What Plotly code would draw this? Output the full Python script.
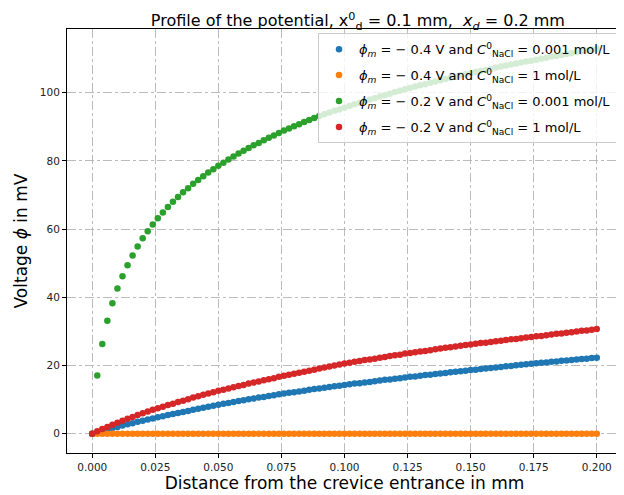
import plotly.graph_objects as go

# distance from crevice entrance (mm)
x_mm = [
    0.000, 0.002, 0.004, 0.006, 0.008, 0.010, 0.012, 0.014, 0.016, 0.018,
    0.020, 0.022, 0.024, 0.026, 0.028, 0.030, 0.032, 0.034, 0.036, 0.038,
    0.040, 0.042, 0.044, 0.046, 0.048, 0.050, 0.052, 0.054, 0.056, 0.058,
    0.060, 0.062, 0.064, 0.066, 0.068, 0.070, 0.072, 0.074, 0.076, 0.078,
    0.080, 0.082, 0.084, 0.086, 0.088, 0.090, 0.092, 0.094, 0.096, 0.098,
    0.100, 0.102, 0.104, 0.106, 0.108, 0.110, 0.112, 0.114, 0.116, 0.118,
    0.120, 0.122, 0.124, 0.126, 0.128, 0.130, 0.132, 0.134, 0.136, 0.138,
    0.140, 0.142, 0.144, 0.146, 0.148, 0.150, 0.152, 0.154, 0.156, 0.158,
    0.160, 0.162, 0.164, 0.166, 0.168, 0.170, 0.172, 0.174, 0.176, 0.178,
    0.180, 0.182, 0.184, 0.186, 0.188, 0.190, 0.192, 0.194, 0.196, 0.198,
    0.200,
]

# phi_m = -0.4 V, C = 0.001 mol/L
phi_04_0001 = [
    0.0, 0.4, 0.9, 1.3, 1.7, 2.0, 2.4, 2.8, 3.1, 3.5,
    3.8, 4.2, 4.5, 4.8, 5.1, 5.5, 5.8, 6.1, 6.4, 6.7,
    7.0, 7.3, 7.6, 7.9, 8.2, 8.5, 8.8, 9.0, 9.3, 9.6,
    9.8, 10.1, 10.3, 10.6, 10.8, 11.1, 11.3, 11.6, 11.8, 12.0,
    12.2, 12.4, 12.6, 12.9, 13.1, 13.3, 13.5, 13.7, 13.9, 14.1,
    14.3, 14.5, 14.7, 14.8, 15.0, 15.2, 15.4, 15.6, 15.8, 15.9,
    16.1, 16.3, 16.5, 16.7, 16.8, 17.0, 17.2, 17.3, 17.5, 17.7,
    17.8, 18.0, 18.2, 18.3, 18.5, 18.7, 18.8, 19.0, 19.1, 19.3,
    19.4, 19.6, 19.8, 19.9, 20.1, 20.2, 20.4, 20.5, 20.7, 20.8,
    20.9, 21.1, 21.2, 21.4, 21.5, 21.6, 21.8, 21.9, 22.0, 22.2,
    22.3,
]

# phi_m = -0.4 V, C = 1 mol/L
phi_04_1 = [
    0.0, 0.0, 0.0, 0.0, 0.0, 0.0, 0.0, 0.0, 0.0, 0.0,
    0.0, 0.0, 0.0, 0.0, 0.0, 0.0, 0.0, 0.0, 0.0, 0.0,
    0.0, 0.0, 0.0, 0.0, 0.0, 0.0, 0.0, 0.0, 0.0, 0.0,
    0.0, 0.0, 0.0, 0.0, 0.0, 0.0, 0.0, 0.0, 0.0, 0.0,
    0.0, 0.0, 0.0, 0.0, 0.0, 0.0, 0.0, 0.0, 0.0, 0.0,
    0.0, 0.0, 0.0, 0.0, 0.0, 0.0, 0.0, 0.0, 0.0, 0.0,
    0.0, 0.0, 0.0, 0.0, 0.0, 0.0, 0.0, 0.0, 0.0, 0.0,
    0.0, 0.0, 0.0, 0.0, 0.0, 0.0, 0.0, 0.0, 0.0, 0.0,
    0.0, 0.0, 0.0, 0.0, 0.0, 0.0, 0.0, 0.0, 0.0, 0.0,
    0.0, 0.0, 0.0, 0.0, 0.0, 0.0, 0.0, 0.0, 0.0, 0.0,
    0.0,
]

# phi_m = -0.2 V, C = 0.001 mol/L
phi_02_0001 = [
    0.0, 17.1, 26.3, 33.1, 38.3, 42.6, 46.2, 49.4, 52.3, 54.9,
    57.3, 59.4, 61.4, 63.2, 64.9, 66.5, 68.0, 69.4, 70.8, 72.0,
    73.3, 74.4, 75.5, 76.6, 77.6, 78.6, 79.5, 80.4, 81.3, 82.2,
    83.0, 83.8, 84.6, 85.3, 86.1, 86.8, 87.5, 88.2, 88.9, 89.5,
    90.2, 90.8, 91.4, 92.0, 92.6, 93.2, 93.7, 94.2, 94.7, 95.1,
    95.6, 96.1, 96.6, 97.1, 97.5, 98.0, 98.4, 98.9, 99.3, 99.7,
    100.2, 100.6, 101.0, 101.4, 101.8, 102.2, 102.5, 102.9, 103.3, 103.7,
    104.0, 104.4, 104.7, 105.1, 105.4, 105.7, 106.1, 106.4, 106.7, 107.0,
    107.4, 107.7, 108.0, 108.3, 108.6, 108.9, 109.2, 109.4, 109.7, 110.0,
    110.3, 110.6, 110.8, 111.1, 111.4, 111.6, 111.9, 112.2, 112.4, 112.7,
    112.9,
]

# phi_m = -0.2 V, C = 1 mol/L
phi_02_1 = [
    0.0, 0.7, 1.4, 2.0, 2.6, 3.2, 3.8, 4.4, 4.9, 5.5,
    6.0, 6.5, 7.0, 7.5, 7.9, 8.4, 8.8, 9.3, 9.7, 10.1,
    10.6, 11.0, 11.4, 11.8, 12.2, 12.6, 12.9, 13.3, 13.6, 14.0,
    14.3, 14.7, 15.0, 15.3, 15.7, 16.0, 16.3, 16.7, 17.0, 17.3,
    17.6, 17.9, 18.2, 18.5, 18.8, 19.1, 19.4, 19.7, 20.0, 20.3,
    20.6, 20.8, 21.1, 21.3, 21.6, 21.8, 22.0, 22.3, 22.5, 22.8,
    23.0, 23.2, 23.5, 23.7, 23.9, 24.1, 24.3, 24.5, 24.8, 25.0,
    25.2, 25.4, 25.6, 25.8, 26.0, 26.2, 26.4, 26.6, 26.7, 26.9,
    27.1, 27.3, 27.5, 27.7, 27.8, 28.0, 28.2, 28.4, 28.6, 28.7,
    28.9, 29.1, 29.3, 29.4, 29.6, 29.8, 30.0, 30.2, 30.3, 30.5,
    30.7,
]

series_names = [
    "<i>ϕ<sub>m</sub></i> = − 0.4 V and <i>C</i><sup>0</sup><sub>NaCl</sub> = 0.001 mol/L",
    "<i>ϕ<sub>m</sub></i> = − 0.4 V and <i>C</i><sup>0</sup><sub>NaCl</sub> = 1 mol/L",
    "<i>ϕ<sub>m</sub></i> = − 0.2 V and <i>C</i><sup>0</sup><sub>NaCl</sub> = 0.001 mol/L",
    "<i>ϕ<sub>m</sub></i> = − 0.2 V and <i>C</i><sup>0</sup><sub>NaCl</sub> = 1 mol/L",
]
series_values = [phi_04_0001, phi_04_1, phi_02_0001, phi_02_1]
colors = ["#1f77b4", "#ff7f0e", "#2ca02c", "#d62728"]

x_ticks = [0.000, 0.025, 0.050, 0.075, 0.100, 0.125, 0.150, 0.175, 0.200]
y_ticks = [0, 20, 40, 60, 80, 100]

FONT = "DejaVu Sans"

fig = go.Figure()
for i, (name, vals, col) in enumerate(zip(series_names, series_values, colors)):
    fig.add_trace(go.Scatter(
        x=x_mm, y=vals, mode="markers", name=name, legendgroup=f"g{i}",
        marker=dict(color=col, size=6.5, line=dict(width=0)),
    ))

grid = "rgba(176,176,176,0.85)"
# the page body adds an 8px offset, so the figure is 8px smaller on each axis
fig.update_layout(
    width=616, height=487,
    margin=dict(l=59, r=2, t=21, b=42, autoexpand=False),
    paper_bgcolor="white", plot_bgcolor="white",
    font=dict(family=FONT, color="black"),
    title=dict(
        text="Profile of the potential, x<sup>0</sup><sub>d</sub> = 0.1 mm,  <i>x<sub>d</sub></i> = 0.2 mm",
        x=0.568, xanchor="center", y=0.974, yanchor="middle", yref="container",
        font=dict(size=16, family=FONT, color="black"),
    ),
    legend=dict(
        x=0.991, y=0.99, xanchor="right", yanchor="top",
        bgcolor="rgba(255,255,255,0.8)", bordercolor="#cccccc", borderwidth=1,
        font=dict(size=13, family=FONT, color="black"),
        itemwidth=30, tracegroupgap=6,
    ),
    showlegend=True,
)
fig.update_xaxes(
    range=[-0.01, 0.21], tickvals=x_ticks, ticktext=[f"{v:.3f}" for v in x_ticks],
    showline=True, linecolor="black", linewidth=1, mirror=True,
    ticks="outside", ticklen=4, tickcolor="black", automargin=False,
    showgrid=True, gridcolor=grid, gridwidth=1, griddash="dashdot",
    zeroline=False, tickfont=dict(size=10.5, family=FONT, color="#222"),
    title=dict(text="Distance from the crevice entrance in mm", font=dict(size=17, family=FONT), standoff=3),
)
fig.update_yaxes(
    range=[-5.65, 118.7], tickvals=y_ticks, ticktext=[str(v) for v in y_ticks],
    showline=True, linecolor="black", linewidth=1, mirror=True,
    ticks="outside", ticklen=4, tickcolor="black", automargin=False,
    showgrid=True, gridcolor=grid, gridwidth=1, griddash="dashdot",
    zeroline=False, tickfont=dict(size=10.5, family=FONT, color="#222"),
    title=dict(text="Voltage <i>ϕ</i> in mV", font=dict(size=17, family=FONT), standoff=7),
)

fig.write_html("out.html")
